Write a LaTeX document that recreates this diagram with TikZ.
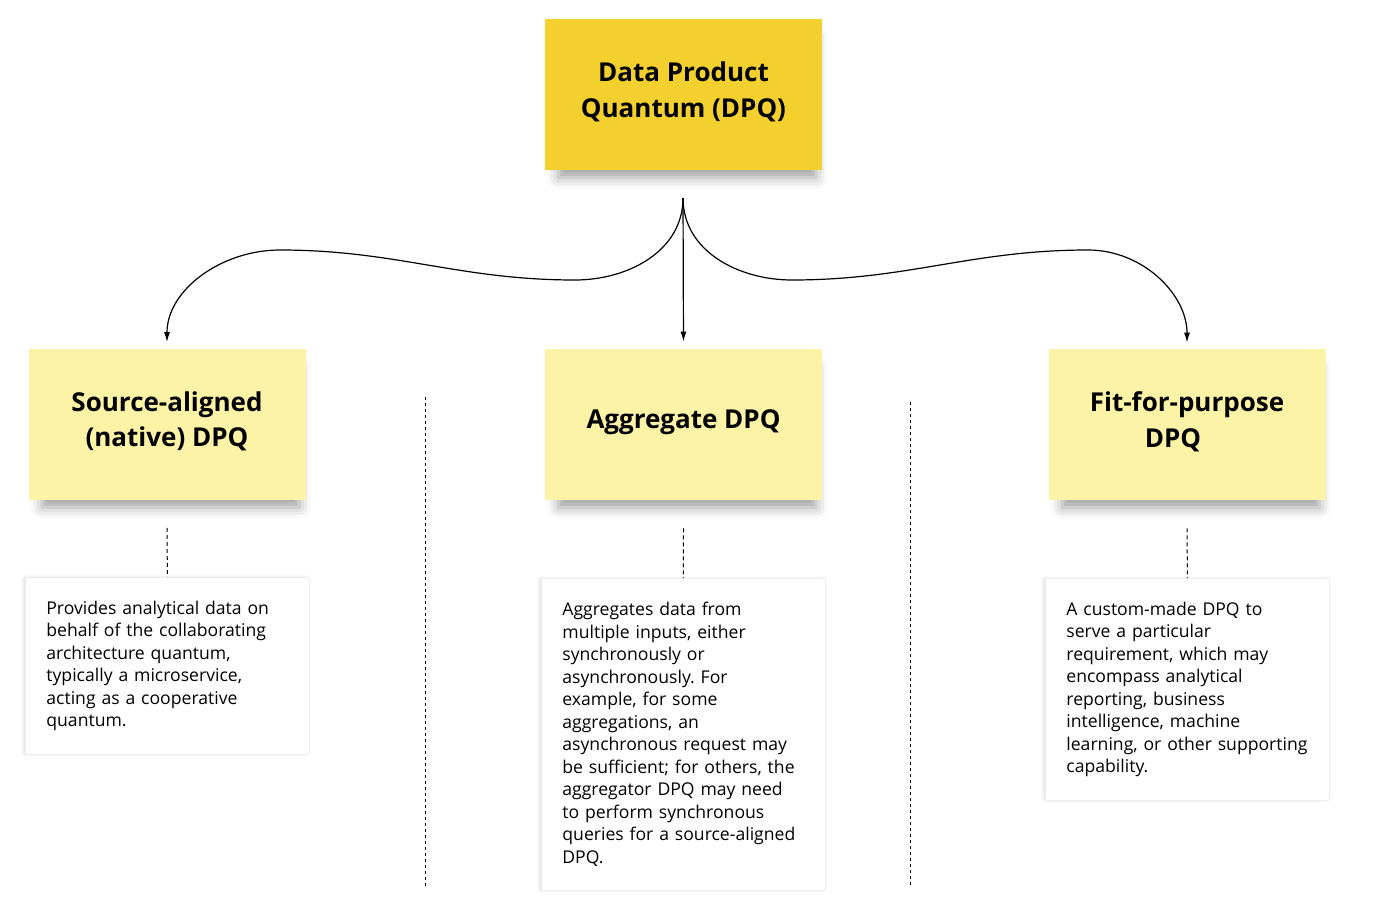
\documentclass[tikz,border=0pt]{standalone}
\usepackage{fontspec}
\setmainfont{Open Sans}
\usetikzlibrary{arrows.meta,shadows.blur}
\definecolor{dpqgold}{HTML}{F4D02E}
\definecolor{notepale}{HTML}{FDF3A6}
\frenchspacing
\hyphenpenalty=10000
\tikzset{
  sticky/.style     = {shape=rectangle, align=center,
                       minimum width=138.5pt, minimum height=75.5pt,
                       text depth=5pt,
                       font=\bfseries\fontsize{13}{17.75}\selectfont,
                       blur shadow={shadow xshift=2pt, shadow yshift=-7pt,
                                    shadow scale=0.93, shadow blur radius=6pt,
                                    shadow opacity=38}},
  mainsticky/.style = {sticky, fill=dpqgold},
  kindsticky/.style = {sticky, fill=notepale},
  descbox/.style    = {shape=rectangle, rounded corners=1pt, anchor=north west,
                       draw=black!7, fill=white, align=left,
                       text width=121pt, inner xsep=10.5pt,
                       minimum width=142pt,
                       font=\fontsize{8.8}{11.25}\selectfont,
                       blur shadow={shadow xshift=-1pt, shadow yshift=0pt,
                                    shadow blur radius=1.5pt, shadow opacity=12}},
  link/.style       = {draw, line width=0.6pt, -{Latex[length=5pt,width=3pt]}},
  dashlink/.style   = {draw, line width=0.5pt, dash pattern=on 2pt off 1.5pt},
  divider/.style    = {draw, line width=0.5pt, dash pattern=on 1.5pt off 1.5pt}
}
\begin{document}
\begin{tikzpicture}[x=0.5pt, y=0.5pt]
  \useasboundingbox (0,0) rectangle (1400,918);

  \node [mainsticky] (dpq) at (683.5,823.5) {Data Product\\Quantum (DPQ)};
  \node [kindsticky] (source) at (167,494) {Source-aligned\\(native) DPQ};
  \node [kindsticky] (aggregate) at (683.5,493.5) {Aggregate DPQ};
  \node [kindsticky] (fitpurpose) at (1187,493.5) {Fit-for-purpose\\DPQ\hspace*{14pt}};

  \node [descbox, minimum height=88.5pt] (srcdesc) at (25,341)
    {Provides analytical data on\\behalf of the collaborating\\architecture quantum,\\
     typically a microservice,\\acting as a cooperative\\quantum.};
  \node [descbox, minimum height=156pt] (aggdesc) at (541,340)
    {Aggregates data from\\multiple inputs, either\\synchronously or\\
     asynchronously. For\\example, for some\\aggregations, an\\
     asynchronous request may\\be sufficient; for others, the\\
     aggregator DPQ may need\\to perform synchronous\\
     queries for a source-aligned\\DPQ.};
  \node [descbox, minimum height=111pt] (fitdesc) at (1045,340)
    {A custom-made DPQ to\\serve a particular\\requirement, which may\\
     encompass analytical\\reporting, business\\intelligence, machine\\
     learning, or other supporting\\capability.};

  \coordinate (fork) at (683,720);
  \draw [link, shorten >=3.5pt] (fork) -- (aggregate.north);
  \draw [link, shorten >=3pt] (fork) to[out=-90,in=0] (575,638)
    to[out=180,in=0] (280,668) to[out=180,in=90] (source.north);
  \draw [link, shorten >=3pt] (fork) to[out=-90,in=180] (792,638)
    to[out=0,in=180] (1088,668) to[out=0,in=90] (fitpurpose.north);

  \draw [dashlink] ([yshift=-14pt]source.south) -- (srcdesc.north);
  \draw [dashlink] ([yshift=-14pt]aggregate.south) -- (aggdesc.north);
  \draw [dashlink] ([yshift=-14pt]fitpurpose.south) -- (fitdesc.north);

  \draw [divider] (425,521) -- (425,30);
  \draw [divider] (910,516) -- (910,30);
\end{tikzpicture}
\end{document}
